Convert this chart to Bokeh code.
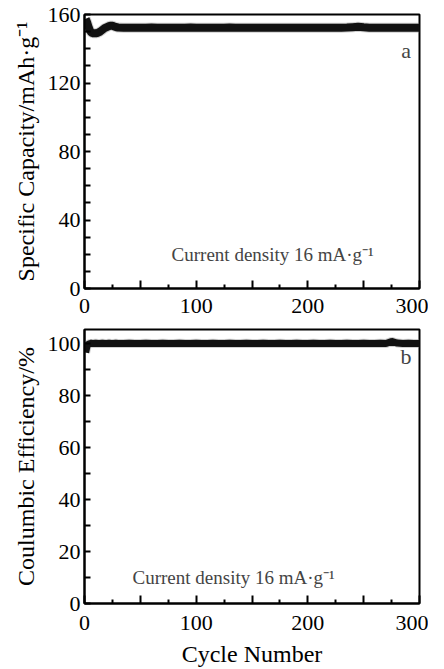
from bokeh.plotting import figure
from bokeh.layouts import column
from bokeh.models import FixedTicker, Label
from bokeh.embed import file_html
from bokeh.resources import INLINE

# ---------------- data ----------------
cycles = [1, 2, 3, 4, 5, 6, 7, 8, 10, 12, 14, 16, 18, 20, 22, 24, 26, 28, 30,
          35, 40, 45, 50, 55, 60, 65, 70, 75, 80, 85, 90, 95, 100,
          105, 110, 115, 120, 125, 130, 135, 140, 145, 150, 155, 160, 165, 170,
          175, 180, 185, 190, 195, 200, 205, 210, 215, 220, 225, 230, 235, 240,
          245, 250, 255, 260, 265, 270, 275, 280, 285, 290, 295, 300]

capacity = [157.5, 156.0, 154.0, 152.0, 150.5, 149.6, 149.2, 149.0, 149.0, 149.3, 150.0, 151.0, 152.0, 152.6, 153.2, 153.6, 153.2, 152.7, 152.4,
            152.3, 152.2, 152.3, 152.2, 152.3, 152.4, 152.3, 152.2, 152.3, 152.3, 152.2, 152.3, 152.4, 152.3,
            152.2, 152.3, 152.3, 152.2, 152.3, 152.4, 152.3, 152.3, 152.2, 152.3, 152.3, 152.2, 152.3, 152.3,
            152.2, 152.3, 152.3, 152.2, 152.3, 152.3, 152.2, 152.3, 152.3, 152.2, 152.3, 152.3, 152.4, 152.6,
            152.8, 152.5, 152.3, 152.3, 152.2, 152.3, 152.3, 152.2, 152.3, 152.3, 152.2, 152.3]

efficiency = [96.5, 98.5, 99.5, 99.9, 100.0, 100.1, 100.0, 100.0, 100.1, 100.0, 100.0, 100.1, 100.0, 100.0, 100.1, 100.0, 100.0, 100.1, 100.0,
              100.0, 100.1, 100.0, 100.0, 100.1, 100.0, 100.0, 100.1, 100.0, 100.0, 100.1, 100.0, 100.0, 100.1,
              100.0, 100.0, 100.1, 100.0, 100.0, 100.1, 100.0, 100.0, 100.1, 100.0, 100.0, 100.1, 100.0, 100.0,
              100.1, 100.0, 100.0, 100.1, 100.0, 100.0, 100.1, 100.0, 100.0, 100.1, 100.0, 100.0, 100.1, 100.0,
              100.0, 100.1, 100.0, 100.0, 100.1, 100.0, 100.8, 100.2, 100.0, 100.1, 100.0, 100.0]

x_major = [0, 50, 100, 150, 200, 250, 300]
x_minor = [25, 75, 125, 175, 225, 275]
x_hidden = {50: "", 150: "", 250: ""}
cap_major = [0, 40, 80, 120, 160]
cap_minor = [10, 20, 30, 50, 60, 70, 90, 100, 110, 130, 140, 150]
ce_major = [0, 20, 40, 60, 80, 100]
ce_minor = [10, 30, 50, 70, 90]

cap_label = "Specific Capacity/mAh\u00b7g\u207b\u00b9"
ce_label = "Coulumbic Efficiency/%"
x_label = "Cycle Number"
note = "Current density 16 mA\u00b7g\u207b\u00b9"

FONT = "Liberation Serif"


def style(p, yticks, yminor):
    p.xgrid.visible = False
    p.ygrid.visible = False
    p.outline_line_color = "black"
    p.outline_line_width = 2
    p.background_fill_color = "white"
    p.border_fill_color = "white"
    p.xaxis.ticker = FixedTicker(ticks=x_major, minor_ticks=x_minor)
    p.xaxis.major_label_overrides = x_hidden
    p.yaxis.ticker = FixedTicker(ticks=yticks, minor_ticks=yminor)
    for ax in (p.xaxis[0], p.yaxis[0]):
        ax.axis_line_width = 2
        ax.axis_line_color = "black"
        ax.major_tick_line_width = 2
        ax.minor_tick_line_width = 2
        ax.major_tick_out = 0
        ax.minor_tick_out = 0
        ax.major_label_text_font = FONT
        ax.major_label_text_font_size = "22px"
        ax.major_label_text_color = "black"
        ax.axis_label_text_font = FONT
        ax.axis_label_text_font_size = "24px"
        ax.axis_label_text_font_style = "normal"
        ax.axis_label_text_color = "black"
    p.xaxis.major_tick_in = 8
    p.xaxis.minor_tick_in = 4
    p.yaxis.major_tick_in = 6
    p.yaxis.minor_tick_in = 6
    p.yaxis.major_label_standoff = 4
    p.yaxis.axis_label_standoff = 6


p1 = figure(frame_width=335, frame_height=274, x_range=(0, 300), y_range=(0, 160),
            output_backend="svg", toolbar_location=None,
            min_border_left=84, min_border_right=9, min_border_top=14, min_border_bottom=36)
style(p1, cap_major, cap_minor)
p1.yaxis.axis_label = cap_label
p1.xaxis.major_label_standoff = 10
p1.line(cycles, capacity, line_color="#777777", line_width=10, line_alpha=0.35)
p1.line(cycles, capacity, line_color="#111111", line_width=8)
p1.add_layout(Label(x=78, y=20, text=note, text_font=FONT, text_font_size="19px",
                    text_align="left", text_baseline="middle"))
p1.add_layout(Label(x=288, y=139, text="a", text_font=FONT, text_font_size="22px",
                    text_align="center", text_baseline="middle"))

p2 = figure(frame_width=335, frame_height=274, x_range=(0, 300), y_range=(0, 105.4),
            output_backend="svg", toolbar_location=None,
            min_border_left=84, min_border_right=9, min_border_top=5, min_border_bottom=66)
style(p2, ce_major, ce_minor)
p2.yaxis.axis_label = ce_label
p2.xaxis.axis_label = x_label
p2.xaxis.major_label_standoff = 12
p2.xaxis.axis_label_standoff = 8
p2.line(cycles, efficiency, line_color="#777777", line_width=9, line_alpha=0.35)
p2.line(cycles, efficiency, line_color="#111111", line_width=7)
p2.add_layout(Label(x=43, y=10, text=note, text_font=FONT, text_font_size="19px",
                    text_align="left", text_baseline="middle"))
p2.add_layout(Label(x=288, y=95, text="b", text_font=FONT, text_font_size="22px",
                    text_align="center", text_baseline="middle"))

layout = column(p1, p2, spacing=0)
open("out.html", "w").write(file_html(layout, INLINE))
